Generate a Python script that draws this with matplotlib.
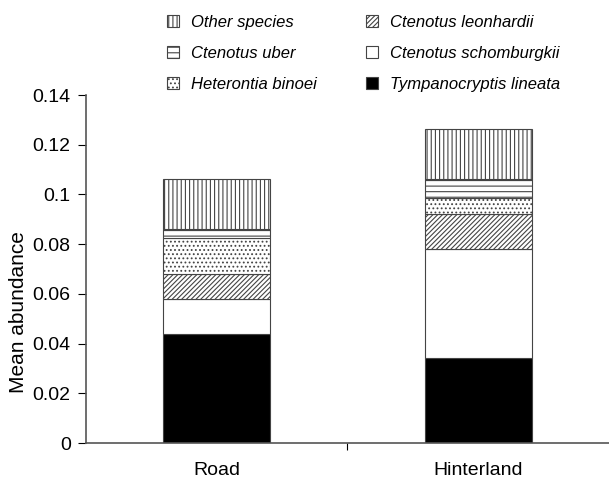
import matplotlib
matplotlib.use("Agg")
import matplotlib.pyplot as plt
import numpy as np

plt.rcParams["font.family"] = ["Liberation Sans", "DejaVu Sans"]
plt.rcParams["hatch.linewidth"] = 0.8

# ---------------------------------------------------------------------
# Data
# ---------------------------------------------------------------------
sites = ["Road", "Hinterland"]

# stack order, bottom to top
species = [
    "Tympanocryptis lineata",
    "Ctenotus schomburgkii",
    "Ctenotus leonhardii",
    "Heterontia binoei",
    "Ctenotus uber",
    "Other species",
]
tympanocryptis = [0.044, 0.034]
schomburgkii = [0.014, 0.044]
leonhardii = [0.010, 0.014]
heteronotia = [0.0144, 0.0064]
uber = [0.0036, 0.008]
other = [0.0204, 0.020]

values = [tympanocryptis, schomburgkii, leonhardii, heteronotia, uber, other]
faces = ["black", "white", "white", "white", "white", "white"]
hatches = [None, None, "///////", "....", "---", "||||"]

# ---------------------------------------------------------------------
# Plot
# ---------------------------------------------------------------------
fig = plt.figure(figsize=(6.09, 4.84), dpi=100)
ax = fig.add_axes([0.1412, 0.0847, 0.8588, 0.719])

x = np.arange(len(sites)) + 0.5
bottom = np.zeros(len(sites))
handles = {}
for name, vals, fc, h in zip(species, values, faces, hatches):
    bars = ax.bar(x, vals, width=0.41, bottom=bottom, color=fc, hatch=h,
                  edgecolor="#444444", linewidth=0.8)
    handles[name] = bars
    bottom += np.array(vals)

ax.set_xlim(0, 2)
ax.set_ylim(0, 0.14)
ax.set_yticks(np.arange(0, 0.141, 0.02))
ax.set_yticklabels(["0", "0.02", "0.04", "0.06", "0.08", "0.1", "0.12", "0.14"])
ax.set_xticks([1])
ax.set_xticklabels([""])
ax.set_xticks(x, minor=True)
ax.set_xticklabels(sites, minor=True)
ax.tick_params(axis="x", which="minor", length=0, pad=14, labelsize=14)
ax.tick_params(axis="x", which="major", length=5, direction="out")
ax.tick_params(axis="y", length=6, direction="out", labelsize=14, pad=5)
ax.set_ylabel("Mean abundance", fontsize=15, labelpad=6)
ax.yaxis.set_label_coords(-0.11, 0.375)

for side in ["top", "right"]:
    ax.spines[side].set_visible(False)
for side in ["left", "bottom"]:
    ax.spines[side].set_color("#555555")
    ax.spines[side].set_linewidth(1.2)

legend_order = [
    "Other species",
    "Ctenotus uber",
    "Heterontia binoei",
    "Ctenotus leonhardii",
    "Ctenotus schomburgkii",
    "Tympanocryptis lineata",
]
leg = fig.legend(
    [handles[n] for n in legend_order],
    legend_order,
    ncol=2,
    loc="upper left",
    bbox_to_anchor=(0.25, 1.0),
    frameon=False,
    prop={"style": "italic", "size": 12},
    handlelength=0.7,
    handleheight=0.7,
    handletextpad=0.7,
    columnspacing=3.0,
    labelspacing=0.95,
)

fig.savefig("out.png", dpi=100)
